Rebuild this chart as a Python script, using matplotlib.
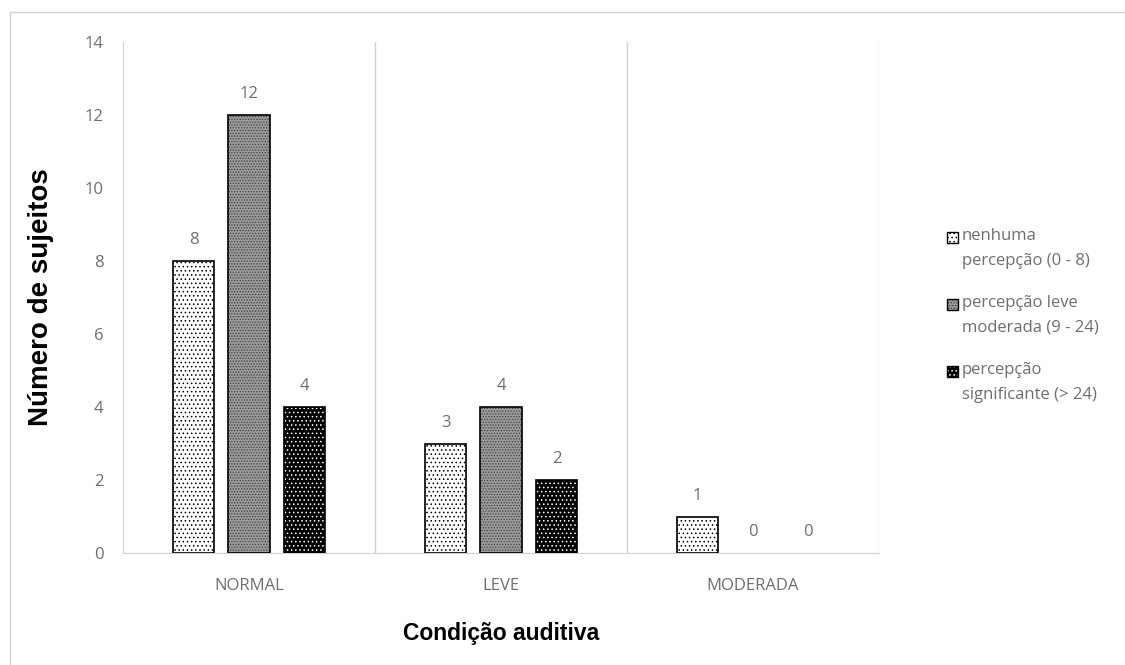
import matplotlib
matplotlib.use("Agg")
import matplotlib.pyplot as plt
import matplotlib.patches as mpatches
import numpy as np

categories = ["NORMAL", "LEVE", "MODERADA"]
series_names = ["nenhuma\npercepção (0 - 8)",
                "percepção leve\nmoderada (9 - 24)",
                "percepção\nsignificante (> 24)"]
nenhuma = [8, 3, 1]
leve_moderada = [12, 4, 0]
significante = [4, 2, 0]
y_ticks = [0, 2, 4, 6, 8, 10, 12, 14]

series = [nenhuma, leve_moderada, significante]
styles = [
    dict(face="white", hatch_col="black", hatch="...."),
    dict(face="#9a9a9a", hatch_col="#404040", hatch="......"),
    dict(face="black", hatch_col="white", hatch="...."),
]

plt.rcParams["hatch.linewidth"] = 0.6
tick_font = "Open Sans"
text_gray = "#6e6e6e"

W, H = 1125, 665
fig = plt.figure(figsize=(W / 100, H / 100), dpi=100)
ax = fig.add_axes([0.1093, 0.1684, 0.6720, 0.7684])

# outer chart frame
fig.patches.append(mpatches.Rectangle((10 / W, -0.01), 1.1, 1 - 12 / H + 0.01,
                                      transform=fig.transFigure, fill=False,
                                      edgecolor="#d0d0d0", linewidth=1.0))

x = np.arange(len(categories))
width = 0.163
offsets = [-0.22, 0.0, 0.22]
for vals, st, off in zip(series, styles, offsets):
    xs = x + off
    heights = np.array(vals, dtype=float)
    shown = heights > 0
    ax.bar(xs[shown], heights[shown], width, color=st["face"],
           edgecolor=st["hatch_col"], hatch=st["hatch"], linewidth=0, zorder=3)
    ax.bar(xs[shown], heights[shown], width, fill=False,
           edgecolor="black", linewidth=1.2, zorder=4)
    for xi, v in zip(xs, vals):
        ax.text(xi, v + 0.35, str(v), ha="center", va="bottom",
                fontsize=12, color=text_gray, family=tick_font)

ax.set_xlim(-0.5, len(categories) - 0.5)
ax.set_ylim(0, 14)
ax.set_yticks(y_ticks)
ax.set_xticks(x)
ax.set_xticklabels(categories)
for lbl in ax.get_xticklabels() + ax.get_yticklabels():
    lbl.set_fontfamily(tick_font)
    lbl.set_fontsize(12)
    lbl.set_color(text_gray)
ax.tick_params(axis="both", length=0)
ax.tick_params(axis="y", pad=14)
ax.tick_params(axis="x", pad=18)

for s in ["top", "right"]:
    ax.spines[s].set_visible(False)
ax.spines["left"].set_color("#d0d0d0")
ax.spines["bottom"].set_color("#d0d0d0")
for b in [0.5, 1.5, 2.5]:
    ax.axvline(b, color="#d0d0d0", linewidth=1.0, zorder=1)

ax.set_ylabel("Número de sujeitos", fontsize=20, fontweight="bold",
              family="Liberation Sans", labelpad=22)
ax.set_xlabel("Condição auditiva", fontsize=16.5, fontweight="bold",
              family="Liberation Sans", labelpad=20)

# legend: swatch aligned with the first line of each two-line entry
sw = 11
for i, (name, st) in enumerate(zip(series_names, styles)):
    top_px = 228 + i * 67
    rect_kw = dict(transform=fig.transFigure)
    fig.patches.append(mpatches.Rectangle(
        (947 / W, 1 - (top_px + 4 + sw) / H), sw / W, sw / H,
        facecolor=st["face"], edgecolor=st["hatch_col"], hatch=st["hatch"],
        linewidth=0, **rect_kw))
    fig.patches.append(mpatches.Rectangle(
        (947 / W, 1 - (top_px + 4 + sw) / H), sw / W, sw / H,
        fill=False, edgecolor="black", linewidth=1.0, **rect_kw))
    fig.text(962 / W, 1 - top_px / H, name, ha="left", va="top",
             fontsize=12, family=tick_font, color=text_gray, linespacing=1.75)

fig.savefig("out.png", dpi=100)
